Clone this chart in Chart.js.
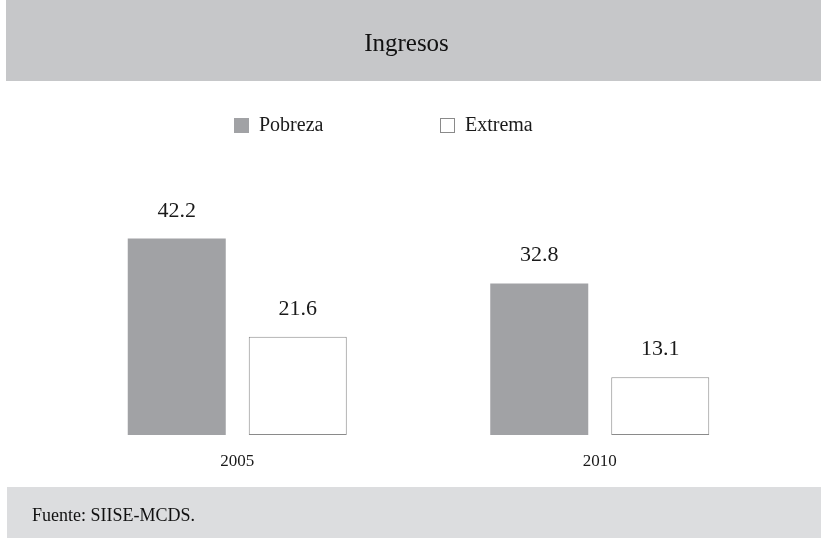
<!DOCTYPE html>
<html>
<head>
<meta charset="utf-8">
<script src="https://cdn.jsdelivr.net/npm/chart.js@4.4.1/dist/chart.umd.min.js"></script>
<style>
  html, body { margin: 0; padding: 0; background: #ffffff; }
  #wrap { width: 821px; height: 538px; position: relative; }
</style>
</head>
<body>
<div id="wrap"><canvas id="c" width="821" height="538"></canvas></div>
<script>
// ---- data ----
const categories = ['2005', '2010'];
const pobreza = [42.2, 32.8];
const extrema = [21.6, 13.1];
const seriesNames = ['Pobreza', 'Extrema'];
const chartTitle = 'Ingresos';
const sourceNote = 'Fuente: SIISE-MCDS.';
const axisMin = 1;
const axisMax = 58.9;

const FONT = '"Liberation Serif", "Times New Roman", Times, serif';
const GRAY_BAR = '#a1a2a5';
const BORDER = '#8a8a8a';

const decorPlugin = {
  id: 'decor',
  beforeDraw(chart) {
    const ctx = chart.ctx;
    ctx.save();
    ctx.fillStyle = '#c6c7c9';
    ctx.fillRect(6, 0, chart.width - 6, 81);
    ctx.fillStyle = '#dcdddf';
    ctx.fillRect(7, 487, chart.width - 7, chart.height - 487);
    ctx.restore();
  },
  afterDraw(chart) {
    const ctx = chart.ctx;
    ctx.save();
    // legend
    const legendX = [234, 440];
    chart.data.datasets.forEach((ds, i) => {
      const x = legendX[i], y = 118;
      ctx.fillStyle = ds.backgroundColor;
      ctx.fillRect(x, y, 15, 15);
      if (ds.borderWidth) {
        ctx.strokeStyle = ds.borderColor;
        ctx.lineWidth = 1;
        ctx.strokeRect(x + 0.5, y + 0.5, 14, 14);
      }
      ctx.fillStyle = '#1a1a1a';
      ctx.font = '20px ' + FONT;
      ctx.textAlign = 'left';
      ctx.textBaseline = 'middle';
      ctx.fillText(ds.label, x + 25, y + 8);
    });
    // value labels
    ctx.font = '22px ' + FONT;
    ctx.textAlign = 'center';
    ctx.textBaseline = 'alphabetic';
    ctx.fillStyle = '#1a1a1a';
    chart.data.datasets.forEach((ds, i) => {
      const meta = chart.getDatasetMeta(i);
      meta.data.forEach((bar, j) => {
        ctx.fillText(ds.data[j].toFixed(1), bar.x, bar.y - 22);
      });
    });
    ctx.restore();
  }
};

new Chart(document.getElementById('c'), {
  type: 'bar',
  data: {
    labels: categories,
    datasets: [
      { label: seriesNames[0], data: pobreza, backgroundColor: GRAY_BAR, borderWidth: 0, base: axisMin },
      { label: seriesNames[1], data: extrema, backgroundColor: '#ffffff', borderColor: BORDER, borderWidth: 1, borderSkipped: false, base: axisMin }
    ]
  },
  options: {
    responsive: false,
    animation: false,
    devicePixelRatio: 1,
    layout: { padding: { left: 32, right: 40, top: 0, bottom: 0 } },
    datasets: { bar: { categoryPercentage: 0.6676, barPercentage: 0.81 } },
    scales: {
      x: {
        grid: { display: false, drawTicks: false },
        border: { display: false },
        ticks: { color: '#1a1a1a', font: { family: FONT, size: 17 }, padding: 16 }
      },
      y: {
        min: axisMin,
        max: axisMax,
        grid: { display: false, drawTicks: false },
        border: { display: false },
        ticks: { display: false },
        afterFit(scale) { scale.width = 24; }
      }
    },
    plugins: {
      legend: { display: false },
      tooltip: { enabled: false },
      title: {
        display: true,
        text: chartTitle,
        color: '#111111',
        font: { family: FONT, size: 25, weight: 'normal' },
        padding: { top: 29, bottom: 100 }
      },
      subtitle: {
        display: true,
        text: sourceNote,
        position: 'bottom',
        align: 'start',
        color: '#111111',
        font: { family: FONT, size: 18, weight: 'normal' },
        padding: { top: 18, bottom: 11 }
      }
    }
  },
  plugins: [decorPlugin]
});
</script>
</body>
</html>
